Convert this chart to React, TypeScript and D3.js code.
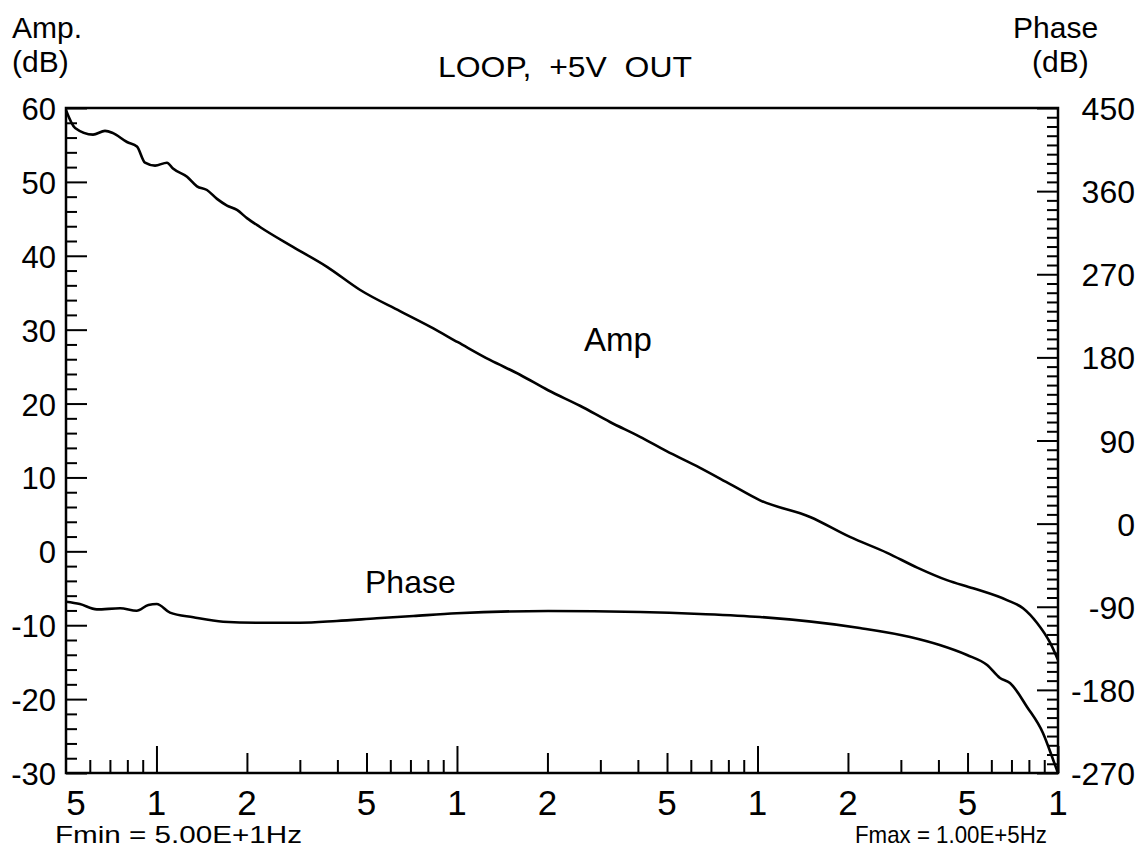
import * as d3 from 'd3';
import { useEffect, useRef } from 'react';

const WIDTH = 1140;
const HEIGHT = 858;
const FONT = '"Liberation Sans", Arial, Helvetica, sans-serif';

// amplitude trace (Hz, dB)
const AMP_FREQ = [50, 53.6, 61.5, 67.4, 71.7, 79.8, 86.1, 91.6, 98.9, 108.4, 113.5, 126.4, 136.4, 147.2, 159, 171.7, 185.3, 200, 221, 284.5, 369.4, 475, 646, 813, 1007, 1287, 1621, 2010, 2566, 3230, 4066, 4965, 6440, 8107, 10200, 14960, 20300, 27000, 34000, 42700, 52200, 67600, 76500, 85200, 94200, 100000];
const AMP_DB = [59.7, 57.3, 56.4, 56.9, 56.6, 55.4, 54.8, 52.6, 52.2, 52.6, 51.8, 50.7, 49.4, 48.9, 47.7, 46.8, 46.2, 45.1, 43.9, 41.2, 38.5, 35.4, 32.5, 30.4, 28.3, 25.9, 23.9, 21.8, 19.7, 17.5, 15.5, 13.6, 11.3, 9.1, 6.9, 4.65, 1.95, -0.2, -2.2, -3.9, -5.0, -6.6, -7.7, -9.7, -12.4, -14.7];

// phase trace (Hz, degrees)
const PHASE_FREQ = [50, 55.6, 63.3, 75.7, 85.9, 94, 100.2, 110.9, 132.6, 166.7, 221, 300, 398, 541, 716, 998, 2010, 4066, 6440, 10200, 21900, 32200, 40400, 49800, 58100, 64100, 69200, 78900, 89100, 96400, 100000];
const PHASE_DEG = [-84.5, -87, -92.8, -91.7, -94.3, -88.1, -87.0, -96.4, -101.4, -106.2, -107.3, -107.3, -105.4, -102.5, -100, -97.1, -94.6, -95.7, -97.8, -101.1, -113, -122.7, -131.4, -142.2, -153.1, -167.1, -172.5, -198.5, -226.7, -255.9, -270];

const AMP_TICKS = [60, 50, 40, 30, 20, 10, 0, -10, -20, -30];
const PHASE_TICKS = [450, 360, 270, 180, 90, 0, -90, -180, -270];
const FREQ_LABELS = [50, 100, 200, 500, 1000, 2000, 5000, 10000, 20000, 50000, 100000];
const FREQ_LABEL_TEXT = ['5', '1', '2', '5', '1', '2', '5', '1', '2', '5', '1'];

export default function App() {
  const ref = useRef<SVGSVGElement>(null);

  useEffect(() => {
    const svg = d3.select(ref.current);
    svg.selectAll('*').remove();

    const left = 66;
    const right = 1058;
    const top = 108;
    const bottom = 773;

    const x = d3.scaleLog().domain([50, 1e5]).range([left, right]);
    const yAmp = d3.scaleLinear().domain([-30, 60]).range([bottom, top]);
    const yPhase = d3.scaleLinear().domain([-270, 450]).range([bottom, top]);

    svg.append('rect').attr('width', WIDTH).attr('height', HEIGHT).attr('fill', '#fff');

    const styleAxis = (axis) => {
      axis.select('.domain').remove();
      axis.selectAll('line').attr('stroke', '#000').attr('stroke-width', 2);
    };

    // left axis ticks (inside)
    const ampMinor = d3.range(-30, 61, 2).filter((v) => v % 10 !== 0);
    svg.append('g').attr('transform', `translate(${left},0)`)
      .call(d3.axisRight(yAmp).tickValues(ampMinor).tickSize(11).tickSizeOuter(0).tickFormat(() => ''))
      .call(styleAxis);
    svg.append('g').attr('transform', `translate(${left},0)`)
      .call(d3.axisRight(yAmp).tickValues(AMP_TICKS).tickSize(21).tickSizeOuter(0).tickFormat(() => ''))
      .call(styleAxis);

    // right axis ticks (inside)
    const phaseMinor = d3.range(-270, 451, 10).filter((v) => v % 90 !== 0);
    svg.append('g').attr('transform', `translate(${right},0)`)
      .call(d3.axisLeft(yPhase).tickValues(phaseMinor).tickSize(11).tickSizeOuter(0).tickFormat(() => ''))
      .call(styleAxis);
    svg.append('g').attr('transform', `translate(${right},0)`)
      .call(d3.axisLeft(yPhase).tickValues(PHASE_TICKS).tickSize(21).tickSizeOuter(0).tickFormat(() => ''))
      .call(styleAxis);

    // bottom log ticks
    const allFreq = [];
    [10, 100, 1000, 10000].forEach((dec) => {
      for (let m = 1; m <= 9; m++) {
        const f = m * dec;
        if (f >= 50 && f <= 1e5) allFreq.push(f);
      }
    });
    allFreq.push(1e5);
    const lead = (f) => Math.round(f / Math.pow(10, Math.floor(Math.log10(f) + 1e-9)));
    const shortF = allFreq.filter((f) => ![1, 2, 5].includes(lead(f)));
    const midF = allFreq.filter((f) => [2, 5].includes(lead(f)) && f > 50);
    const longF = allFreq.filter((f) => lead(f) === 1);
    [[shortF, 13], [midF, 20], [longF, 27]].forEach(([vals, size]) => {
      svg.append('g').attr('transform', `translate(0,${bottom})`)
        .call(d3.axisTop(x).tickValues(vals).tickSize(size).tickSizeOuter(0).tickFormat(() => ''))
        .call(styleAxis);
    });

    // frame
    svg.append('rect')
      .attr('x', left).attr('y', top)
      .attr('width', right - left).attr('height', bottom - top)
      .attr('fill', 'none').attr('stroke', '#000').attr('stroke-width', 2.5);

    // curves
    const ampLine = d3.line().x((d) => x(d[0])).y((d) => yAmp(d[1])).curve(d3.curveMonotoneX);
    const phaseLine = d3.line().x((d) => x(d[0])).y((d) => yPhase(d[1])).curve(d3.curveMonotoneX);
    svg.append('path')
      .attr('d', ampLine(AMP_FREQ.map((f, i) => [f, AMP_DB[i]])))
      .attr('fill', 'none').attr('stroke', '#000').attr('stroke-width', 2.6);
    svg.append('path')
      .attr('d', phaseLine(PHASE_FREQ.map((f, i) => [f, PHASE_DEG[i]])))
      .attr('fill', 'none').attr('stroke', '#000').attr('stroke-width', 2.6);

    const text = (tx, ty, str, size, anchor = 'start', len = null) => {
      const t = svg.append('text')
        .attr('x', tx).attr('y', ty)
        .attr('text-anchor', anchor)
        .style('font-family', FONT)
        .style('font-size', `${size}px`)
        .attr('fill', '#000')
        .text(str);
      if (len) t.attr('textLength', len).attr('lengthAdjust', 'spacingAndGlyphs');
      return t;
    };

    // tick labels
    AMP_TICKS.forEach((v) => text(56, yAmp(v) + 12, String(v), 31, 'end'));
    PHASE_TICKS.forEach((v) => text(1135, yPhase(v) + 12, String(v), 32, 'end'));
    FREQ_LABELS.forEach((f, i) => text(x(f) + (i === 0 ? 10 : 0), 815, FREQ_LABEL_TEXT[i], 35, 'middle'));

    // titles
    text(12, 38, 'Amp.', 30);
    text(12, 72, '(dB)', 30);
    text(1013, 38, 'Phase', 30);
    text(1032, 72, '(dB)', 30);
    text(565, 77, 'LOOP,  +5V  OUT', 29, 'middle', 254).style('white-space', 'pre');
    text(584, 351, 'Amp', 33);
    text(365, 593, 'Phase', 32);
    text(55, 843, 'Fmin = 5.00E+1Hz', 24, 'start', 247);
    text(855, 843, 'Fmax = 1.00E+5Hz', 24, 'start', 192);
  }, []);

  return (
    <svg
      ref={ref}
      width={WIDTH}
      height={HEIGHT}
      style={{ position: 'absolute', left: 0, top: 0, display: 'block' }}
      role="img"
      aria-label="Loop gain and phase, +5V out"
    />
  );
}
